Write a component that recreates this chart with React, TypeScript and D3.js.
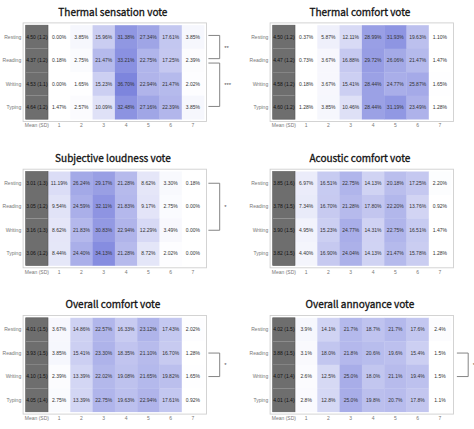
import React from "react";
import * as d3 from "d3";

const CATEGORIES = ["Resting", "Reading", "Writing", "Typing"];
const COLUMN_LABELS = ["Mean (SD)", "1", "2", "3", "4", "5", "6", "7"];
const TITLES = [
  "Thermal sensation vote",
  "Thermal comfort vote",
  "Subjective loudness vote",
  "Acoustic comfort vote",
  "Overall comfort vote",
  "Overall annoyance vote",
];

const MEAN_THERMAL_SENSATION = ["4.50 (1.2)", "4.37 (1.2)", "4.53 (1.1)", "4.64 (1.2)"];
const PCT_THERMAL_SENSATION = [
  [0.0, 3.85, 15.96, 31.38, 27.34, 17.61, 3.85],
  [0.18, 2.75, 21.47, 33.21, 22.75, 17.25, 2.39],
  [0.0, 1.65, 15.23, 36.7, 22.94, 21.47, 2.02],
  [1.47, 2.57, 10.09, 32.48, 27.16, 22.39, 3.85],
];

const MEAN_THERMAL_COMFORT = ["4.50 (1.2)", "4.47 (1.2)", "4.58 (1.2)", "4.60 (1.2)"];
const PCT_THERMAL_COMFORT = [
  [0.37, 5.87, 12.11, 28.99, 31.93, 19.63, 1.1],
  [0.73, 3.67, 16.88, 29.72, 26.06, 21.47, 1.47],
  [0.18, 3.67, 15.41, 28.44, 24.77, 25.87, 1.65],
  [1.28, 3.85, 10.46, 28.44, 31.19, 23.49, 1.28],
];

const MEAN_LOUDNESS = ["3.01 (1.3)", "3.05 (1.2)", "3.16 (1.3)", "3.06 (1.2)"];
const PCT_LOUDNESS = [
  [11.19, 26.24, 29.17, 21.28, 8.62, 3.3, 0.18],
  [9.54, 24.59, 32.11, 21.83, 9.17, 2.75, 0.0],
  [8.62, 21.83, 30.83, 22.94, 12.29, 3.49, 0.0],
  [8.44, 24.4, 34.13, 21.28, 8.72, 2.02, 0.0],
];

const MEAN_ACOUSTIC_COMFORT = ["3.85 (1.6)", "3.78 (1.5)", "3.90 (1.5)", "3.82 (1.5)"];
const PCT_ACOUSTIC_COMFORT = [
  [6.97, 16.51, 22.75, 14.13, 20.18, 17.25, 2.2],
  [7.34, 16.7, 21.28, 17.8, 22.2, 13.76, 0.92],
  [4.95, 15.23, 24.77, 14.31, 22.75, 16.51, 1.47],
  [4.4, 16.9, 24.04, 14.13, 21.47, 15.78, 1.28],
];

const MEAN_OVERALL_COMFORT = ["4.01 (1.5)", "3.93 (1.5)", "4.10 (1.5)", "4.05 (1.4)"];
const PCT_OVERALL_COMFORT = [
  [3.67, 14.86, 22.57, 16.33, 23.12, 17.43, 2.02],
  [3.85, 15.41, 23.3, 18.35, 21.1, 16.7, 1.28],
  [2.39, 13.39, 22.02, 19.08, 21.65, 19.82, 1.65],
  [2.75, 13.39, 22.75, 19.63, 22.94, 17.61, 0.92],
];

const MEAN_ANNOYANCE = ["4.02 (1.5)", "3.88 (1.5)", "4.07 (1.4)", "4.01 (1.4)"];
const PCT_ANNOYANCE = [
  [3.9, 14.1, 21.7, 18.7, 21.7, 17.6, 2.4],
  [3.1, 18.0, 21.8, 20.6, 19.6, 15.4, 1.5],
  [2.6, 12.5, 25.0, 18.0, 21.1, 19.4, 1.5],
  [2.8, 12.8, 25.0, 19.8, 20.7, 17.8, 1.1],
];

const DECIMALS = [2, 2, 2, 2, 2, 1];

// brackets: [fromRow, toRow, label, topNudge, bottomNudge]
const BRACKETS_THERMAL_SENSATION: [number, number, string, number, number][] = [
  [0, 1, "**", -1.5, -1.8],
  [1, 3, "***", 2.6, -1],
];
const BRACKETS_LOUDNESS: [number, number, string, number, number][] = [[0, 2, "*", 0, 0]];
const BRACKETS_OVERALL_COMFORT: [number, number, string, number, number][] = [[1, 2, "*", 0, 0]];
const BRACKETS_ANNOYANCE: [number, number, string, number, number][] = [[1, 2, "*", 0, 0]];

const PANELS = [
  { means: MEAN_THERMAL_SENSATION, pct: PCT_THERMAL_SENSATION, brackets: BRACKETS_THERMAL_SENSATION },
  { means: MEAN_THERMAL_COMFORT, pct: PCT_THERMAL_COMFORT, brackets: [] },
  { means: MEAN_LOUDNESS, pct: PCT_LOUDNESS, brackets: BRACKETS_LOUDNESS },
  { means: MEAN_ACOUSTIC_COMFORT, pct: PCT_ACOUSTIC_COMFORT, brackets: [] },
  { means: MEAN_OVERALL_COMFORT, pct: PCT_OVERALL_COMFORT, brackets: BRACKETS_OVERALL_COMFORT },
  { means: MEAN_ANNOYANCE, pct: PCT_ANNOYANCE, brackets: BRACKETS_ANNOYANCE },
];

const W = 474;
const H = 429;
const GRID_W = 178.4;
const GRID_H = 94;
const LEFTS = [25.7, 272.7];
const TOPS = [25.2, 171.5, 317.8];
const BRACKET_SHIFT = [0, 0, 0, 0, 0, 1.5];

const color = d3
  .scaleLinear<string>()
  .domain([1.5, 38])
  .range(["#ffffff", "#7880dc"])
  .interpolate(d3.interpolateRgb)
  .clamp(true);

const CELL_FONT = "'Liberation Sans', Arial, sans-serif";

function Panel({ idx }: { idx: number }) {
  const p = PANELS[idx];
  const x0 = LEFTS[idx % 2];
  const y0 = TOPS[Math.floor(idx / 2)];
  const x = d3.scaleBand<string>().domain(COLUMN_LABELS).range([x0, x0 + GRID_W]);
  const y = d3.scaleBand<string>().domain(CATEGORIES).range([y0, y0 + GRID_H]);
  const bw = x.bandwidth();
  const bh = y.bandwidth();
  const fmt = (v: number) => v.toFixed(DECIMALS[idx]) + "%";
  const right = x0 + GRID_W;
  const bx1 = right + 4.3 + BRACKET_SHIFT[idx];
  const bx2 = right + 15.6 + BRACKET_SHIFT[idx];
  return (
    <g>
      <text
        x={x0 + GRID_W / 2 - 2}
        y={y0 - 9.5}
        textAnchor="middle"
        fontFamily="'Noto Sans CJK KR', 'Noto Sans', sans-serif"
        fontWeight={400}
        fontSize={10}
        fill="#111"
        stroke="#111"
        strokeWidth={0.3}
      >
        {TITLES[idx]}
      </text>
      <rect
        x={x0 - 2.6}
        y={y0 - 2.3}
        width={GRID_W + 5}
        height={GRID_H + 4.6}
        fill="#fff"
        stroke="#cfcfcf"
        strokeWidth={0.9}
      />
      {CATEGORIES.map((cat, r) => (
        <g key={cat}>
          <rect
            x={x("Mean (SD)")}
            y={y(cat)}
            width={bw}
            height={bh}
            fill="#6e6e6e"
          />
          {p.pct[r].map((v, c) => (
            <rect
              key={c}
              x={x(COLUMN_LABELS[c + 1])}
              y={y(cat)}
              width={bw + 0.3}
              height={bh + 0.3}
              fill={color(v)}
            />
          ))}
        </g>
      ))}
      <rect
        x={x("Mean (SD)")}
        y={y0}
        width={bw}
        height={GRID_H}
        fill="none"
        stroke="#555"
        strokeWidth={0.6}
      />
      {CATEGORIES.map((cat, r) => (
        <g key={cat + "t"} fontFamily={CELL_FONT} fontSize={5}>
          <text
            x={x0 - 4.5}
            y={(y(cat) as number) + bh / 2 + 1.7}
            textAnchor="end"
            fill="#777"
          >
            {cat}
          </text>
          <text
            x={(x("Mean (SD)") as number) + bw / 2}
            y={(y(cat) as number) + bh / 2 + 1.7}
            textAnchor="middle"
            fill="#111"
          >
            {p.means[r]}
          </text>
          {p.pct[r].map((v, c) => (
            <text
              key={c}
              x={(x(COLUMN_LABELS[c + 1]) as number) + bw / 2}
              y={(y(cat) as number) + bh / 2 + 1.7}
              textAnchor="middle"
              fill="#333"
            >
              {fmt(v)}
            </text>
          ))}
        </g>
      ))}
      {COLUMN_LABELS.map((lab) => (
        <text
          key={lab}
          x={(x(lab) as number) + bw / 2}
          y={y0 + GRID_H + 8}
          textAnchor="middle"
          fontFamily={CELL_FONT}
          fontSize={5}
          fill="#777"
        >
          {lab}
        </text>
      ))}
      {p.brackets.map(([a, b, lab, n1, n2], i) => {
        const ya = (y(CATEGORIES[a]) as number) + bh / 2 + n1;
        const yb = (y(CATEGORIES[b]) as number) + bh / 2 + n2;
        return (
          <g key={i}>
            <path
              d={`M${bx1},${ya}H${bx2}V${yb}H${bx1}`}
              fill="none"
              stroke="#777"
              strokeWidth={0.9}
            />
            <text
              x={bx2 + 4.5}
              y={(ya + yb) / 2 + 2.5}
              fontFamily={CELL_FONT}
              fontSize={6}
              fill="#555"
            >
              {lab}
            </text>
          </g>
        );
      })}
    </g>
  );
}

export default function App() {
  return (
    <svg
      width={W}
      height={H}
      viewBox={`0 0 ${W} ${H}`}
      style={{ position: "absolute", left: 0, top: 0, background: "#fff" }}
    >
      <rect width={W} height={H} fill="#fff" />
      {PANELS.map((_, i) => (
        <Panel key={i} idx={i} />
      ))}
    </svg>
  );
}
